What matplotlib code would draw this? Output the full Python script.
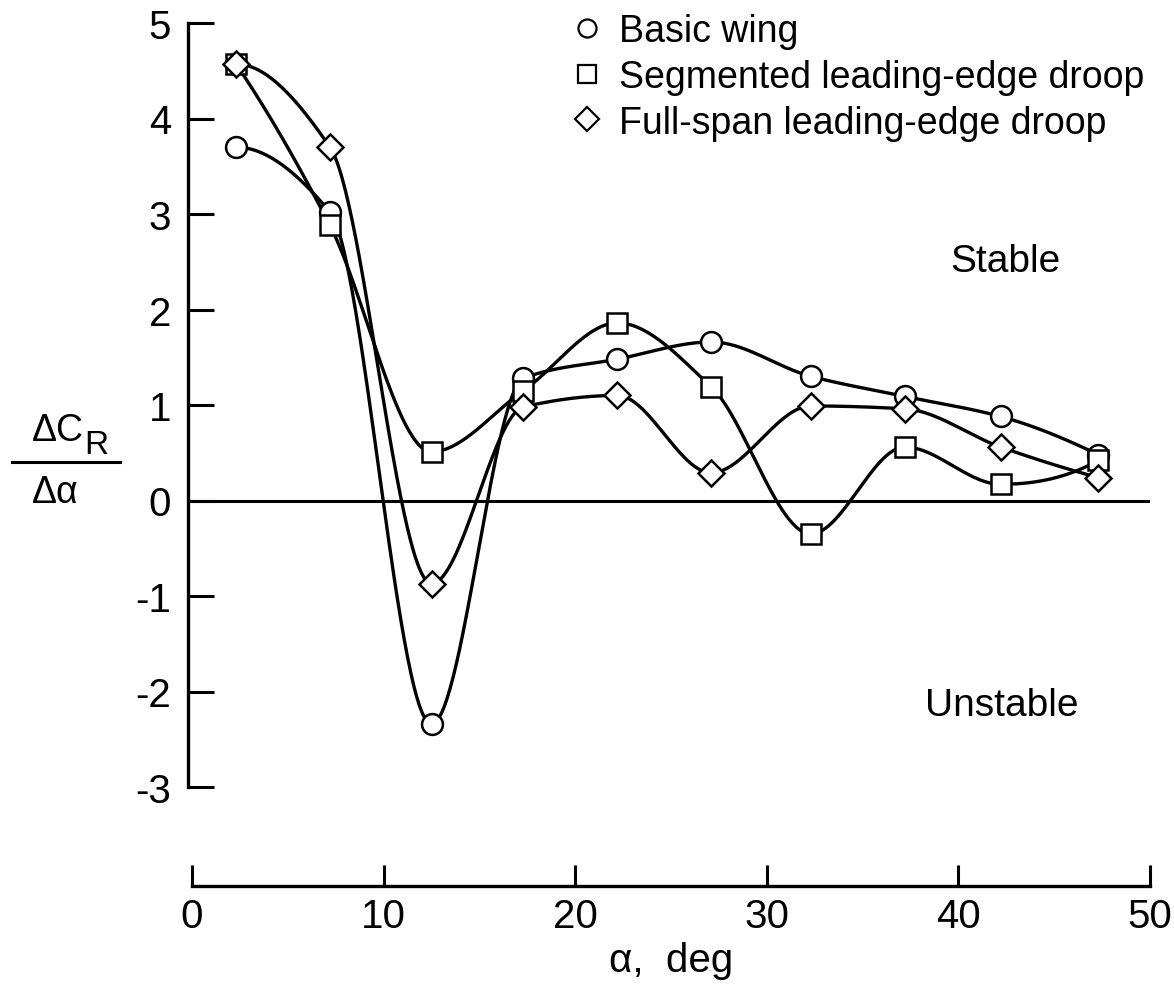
import matplotlib
matplotlib.use("Agg")
import matplotlib.pyplot as plt
from matplotlib.lines import Line2D
import numpy as np

# angle of attack, deg (same for all three configurations)
alpha = [2.3, 7.2, 12.5, 17.3, 22.2, 27.1, 32.3, 37.2, 42.2, 47.3]

# dCR / dalpha
basic_wing = [3.70, 3.02, -2.34, 1.28, 1.48, 1.66, 1.30, 1.09, 0.88, 0.48]
segmented_droop = [4.57, 2.88, 0.51, 1.15, 1.86, 1.19, -0.35, 0.56, 0.17, 0.42]
full_span_droop = [4.57, 3.70, -0.87, 0.98, 1.10, 0.29, 0.99, 0.96, 0.56, 0.24]

series_labels = ["Basic wing", "Segmented leading-edge droop", "Full-span leading-edge droop"]
series_markers = ["o", "s", "D"]

y_ticks = [-3, -2, -1, 0, 1, 2, 3, 4, 5]
x_ticks = [0, 10, 20, 30, 40, 50]

plt.rcParams['font.family'] = ['Liberation Sans', 'DejaVu Sans']


def faired_curve(x, y, n=60):
    # hand-faired look: monotone cubic (pchip), flat at local peaks/dips
    x = np.asarray(x, float)
    y = np.asarray(y, float)
    h = np.diff(x)
    d = np.diff(y) / h
    m = np.zeros_like(y)
    for k in range(1, len(x) - 1):
        if d[k - 1] * d[k] > 0:
            w1 = 2 * h[k] + h[k - 1]
            w2 = h[k] + 2 * h[k - 1]
            m[k] = (w1 + w2) / (w1 / d[k - 1] + w2 / d[k])

    def end_slope(h0, h1, d0, d1):
        s = ((2 * h0 + h1) * d0 - h0 * d1) / (h0 + h1)
        if np.sign(s) != np.sign(d0):
            return 0.0
        if np.sign(d0) != np.sign(d1) and abs(s) > 3 * abs(d0):
            return 3 * d0
        return s

    m[0] = end_slope(h[0], h[1], d[0], d[1])
    m[-1] = end_slope(h[-1], h[-2], d[-1], d[-2])
    xs, ys = [], []
    for i in range(len(x) - 1):
        t = np.linspace(0, 1, n)
        h00 = 2 * t**3 - 3 * t**2 + 1
        h10 = t**3 - 2 * t**2 + t
        h01 = -2 * t**3 + 3 * t**2
        h11 = t**3 - t**2
        xs.append(x[i] + t * h[i])
        ys.append(h00 * y[i] + h10 * h[i] * m[i] + h01 * y[i + 1] + h11 * h[i] * m[i + 1])
    return np.concatenate(xs), np.concatenate(ys)


W, H = 1174, 987
fig = plt.figure(figsize=(W / 100, H / 100), dpi=100)

x0, x1 = 192, 1150
ax = fig.add_axes([x0 / W, 1 - 788 / H, (x1 - x0) / W, (788 - 24) / H])
ax.set_xlim(0, 50)
ax.set_ylim(-3, 5)
for s in ["top", "right", "bottom"]:
    ax.spines[s].set_visible(False)
ax.spines["left"].set_linewidth(2.4)
ax.spines["left"].set_position(("outward", 3))
ax.set_xticks([])
ax.set_yticks(y_ticks)
ax.set_yticklabels([str(v) for v in y_ticks])
ax.tick_params(axis="y", direction="in", length=19, width=2.2, labelsize=29, pad=12)

ax.axhline(0, color="k", lw=2.2)

for vals, mk in zip([basic_wing, segmented_droop, full_span_droop], series_markers):
    cx, cy = faired_curve(alpha, vals)
    ax.plot(cx, cy, color="k", lw=2.4, zorder=2)
    ax.plot(alpha, vals, linestyle="none", marker=mk, markersize=15 if mk != "D" else 13,
            markerfacecolor="white", markeredgecolor="k", markeredgewidth=1.8, zorder=3)

handles = [Line2D([], [], linestyle="none", marker=mk, markersize=13 if mk != "D" else 12,
                  markerfacecolor="white", markeredgecolor="k", markeredgewidth=1.6)
           for mk in series_markers]
ax.legend(handles, series_labels, loc="upper left", bbox_to_anchor=(570 / W, 1 - 14 / H),
          bbox_transform=fig.transFigure, frameon=False, fontsize=27,
          handlelength=0.9, handletextpad=0.4, labelspacing=0.26, borderaxespad=0,
          borderpad=0)

fig.text(1005 / W, 1 - 262 / H, "Stable", fontsize=28, ha="center", va="center")
fig.text(1002 / W, 1 - 706 / H, "Unstable", fontsize=28, ha="center", va="center")

# y-axis label as a fraction
fig.text(32 / W, 1 - 431 / H, "ΔC", fontsize=27, ha="left", va="center")
fig.text(84 / W, 1 - 446 / H, "R", fontsize=24, ha="left", va="center")
fig.add_artist(Line2D([12 / W, 120 / W], [1 - 463 / H, 1 - 463 / H], color="k", lw=2.2))
fig.text(32 / W, 1 - 493 / H, "Δα", fontsize=27, ha="left", va="center")

# detached x axis
axx = fig.add_axes([x0 / W, 1 - 887 / H, (x1 - x0) / W, 0.01])
axx.set_xlim(0, 50)
for s in ["top", "right", "left"]:
    axx.spines[s].set_visible(False)
axx.spines["bottom"].set_linewidth(2.4)
axx.set_yticks([])
axx.set_xticks(x_ticks)
axx.set_xticklabels([str(v) for v in x_ticks])
axx.tick_params(axis="x", direction="in", length=15, width=2.2, labelsize=29, pad=8)
axx.patch.set_visible(False)
axx.set_xlabel("α,  deg", fontsize=29, labelpad=4)

fig.savefig("out.png", dpi=100)
